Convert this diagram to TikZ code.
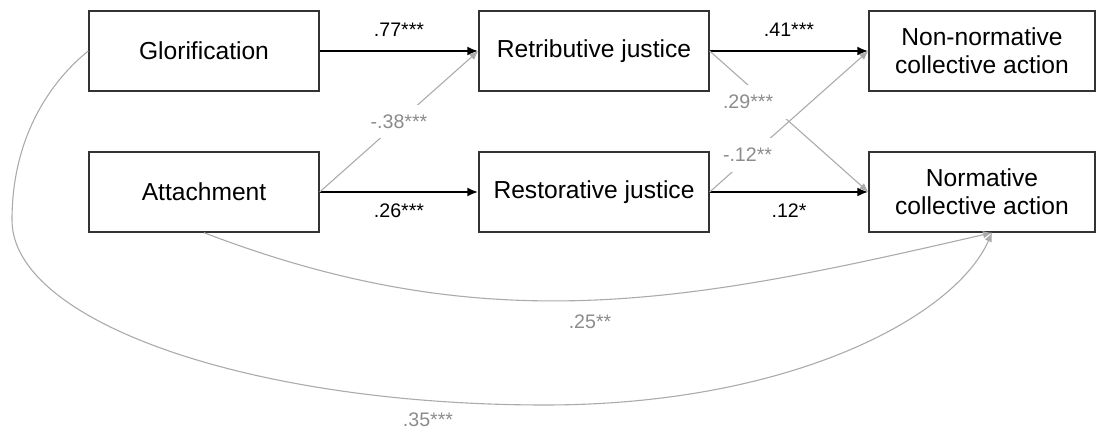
\documentclass[tikz,border=0pt]{standalone}
\usepackage{fontspec}
\setmainfont{Liberation Sans}
\usetikzlibrary{arrows.meta}

\begin{document}
\begin{tikzpicture}[x=0.5pt, y=0.5pt,
    box/.style={draw=black!80, line width=0.7pt, minimum width=115pt, minimum height=40pt,
      align=center, inner sep=0pt, font=\fontsize{12.3}{14}\selectfont},
    mainarrow/.style={line width=1.1pt, -{Latex[length=5.5pt, width=4.5pt]}},
    sidearrow/.style={draw=black!33, line width=0.55pt, -{Latex[length=4.5pt, width=3.8pt]}},
    coef/.style={font=\fontsize{9.8}{11}\selectfont},
    gcoef/.style={coef, text=black!45},
    gap/.style={fill=white, inner xsep=1pt, inner ysep=5pt}]
  \useasboundingbox (0,0) rectangle (1096,432);

  \node[box] (glor) at (204,381) {Glorification};
  \node[box] (attach) at (204,240) {Attachment};
  \node[box] (retrib) at (594,381) {Retributive justice};
  \node[box] (restor) at (594,240) {Restorative justice};
  \node[box, minimum width=113pt] (nonnorm) at (982,381) {Non-normative\\collective action};
  \node[box, minimum width=113pt] (norm) at (982,240) {Normative\\collective action};

  \draw[mainarrow] (glor) -- (retrib) node[coef, midway, above=3.5pt] {.77***};
  \draw[mainarrow] (retrib) -- (nonnorm) node[coef, midway, above=3.5pt] {.41***};
  \draw[mainarrow] (attach) -- (restor) node[coef, midway, below=2pt] {.26***};
  \draw[mainarrow] (restor) -- (norm) node[coef, midway, below=2pt] {.12*};

  \draw[sidearrow] (attach.east) -- (retrib.west) node[gcoef, gap, midway] {-.38***};
  \draw[sidearrow] (retrib.east) -- (norm.west);
  \draw[sidearrow] (restor.east) -- (nonnorm.west);
  \node[gcoef, gap, text width=32pt, align=left] (c29) at (755,330) {.29***};
  \node[gcoef, gap, text width=32pt, align=left] (c12) at (755,277) {-.12**};

  % direct paths to normative action
  \draw[sidearrow] (attach.south) to[out=-21, in=193] ([xshift=5pt]norm.south);
  \node[gcoef] (c25) at (590,110) {.25**};
  \draw[sidearrow] (glor.west) .. controls (57,356) and (12,302) .. (12,212)
    .. controls (12,110) and (251,27) .. (545,27)
    .. controls (790,27) and (955,115) .. ([xshift=5pt]norm.south);
  \node[gcoef] (c35) at (428,12) {.35***};
\end{tikzpicture}
\end{document}
